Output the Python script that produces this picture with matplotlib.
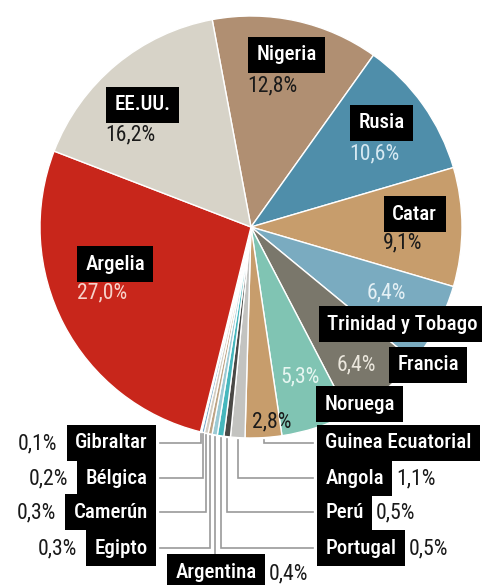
import numpy as np
import matplotlib
matplotlib.use("Agg")
import matplotlib.pyplot as plt
from matplotlib import font_manager as fm

W, H = 482, 585

countries = ["Nigeria", "Rusia", "Catar", "Trinidad y Tobago", "Francia", "Noruega",
             "Guinea Ecuatorial", "Angola", "Perú", "Portugal", "Argentina", "Egipto",
             "Camerún", "Bélgica", "Gibraltar", "Argelia", "EE.UU."]
shares = [12.8, 10.6, 9.1, 6.4, 6.4, 5.3, 2.8, 1.1, 0.5, 0.5, 0.4, 0.3, 0.3, 0.2, 0.1, 27.0, 16.2]
pct_labels = ["12,8%", "10,6%", "9,1%", "6,4%", "6,4%", "5,3%", "2,8%", "1,1%", "0,5%", "0,5%",
              "0,4%", "0,3%", "0,3%", "0,2%", "0,1%", "27,0%", "16,2%"]
colors = ["#b08f72", "#4f8eaa", "#c79d6c", "#7aabc0", "#7a776b", "#80c4b3",
          "#c79d6c", "#c3c3c0", "#4a4946", "#46b7bd", "#9ccad4", "#bda486",
          "#d2cdc2", "#7ba7c7", "#1f3a5a", "#c8261b", "#d7d3c8"]

names = {f.name for f in fm.fontManager.ttflist}
fam = ["DejaVu Sans"]
for cand in ["Roboto Condensed", "Liberation Sans Narrow", "DejaVu Sans Condensed", "Roboto"]:
    if cand in names:
        fam = [cand, "DejaVu Sans"]
        break
NAME_W = "medium"

fig = plt.figure(figsize=(W / 100, H / 100), dpi=100)
ax = fig.add_axes([0, 0, 1, 1])

cx, cy, R = 251, 227, 211
start = 100.6
wedges, _ = ax.pie(shares, colors=colors, startangle=start, counterclock=False,
                   center=(cx, H - cy), radius=R,
                   wedgeprops=dict(edgecolor="white", linewidth=1.0))
ax.set_xlim(0, W)
ax.set_ylim(0, H)
ax.set_aspect("equal")
ax.axis("off")

fig.canvas.draw()
rend = fig.canvas.get_renderer()

def calib(txt, target_px, weight, fs0=12):
    t = ax.text(0, 0, txt, fontsize=fs0, family=fam, fontweight=weight)
    w = t.get_window_extent(rend).width
    t.remove()
    return fs0 * target_px / w

NAME_FS = calib("Guinea Ecuatorial", 146, NAME_W)
PCT_FS = calib("12,8%", 50, "normal")
BOXPAD = 0.40
pad_px = BOXPAD * NAME_FS * 100 / 72

def Y(p):
    return H - p

def name_box(txt, x, y, ha="left"):
    xx = x + pad_px if ha == "left" else (x - pad_px if ha == "right" else x)
    return ax.text(xx, Y(y), txt, ha=ha, va="center", color="white", fontsize=NAME_FS,
                   family=fam, fontweight=NAME_W,
                   bbox=dict(boxstyle="square,pad=%.2f" % BOXPAD, fc="black", ec="none"))

def pct(txt, x, y, color="#1a1a1a", ha="left"):
    return ax.text(x, Y(y), txt, ha=ha, va="center", color=color, fontsize=PCT_FS, family=fam)

idx = {c: i for i, c in enumerate(countries)}

name_box("Nigeria", 248, 55); pct(pct_labels[idx["Nigeria"]], 247, 86)
name_box("EE.UU.", 106, 105); pct(pct_labels[idx["EE.UU."]], 105, 135)
name_box("Rusia", 350, 123); pct(pct_labels[idx["Rusia"]], 349, 154, color="#d6e9f2")
name_box("Catar", 384, 214); pct(pct_labels[idx["Catar"]], 383, 243)
name_box("Argelia", 77, 264); pct(pct_labels[idx["Argelia"]], 77, 293, color="#f7d2ca")
pct(pct_labels[idx["Trinidad y Tobago"]], 367, 293, color="#e4f0f5")
name_box("Trinidad y Tobago", 319, 324)
name_box("Francia", 389, 365); pct(pct_labels[idx["Francia"]], 337, 365, color="#ebe7dd")
pct(pct_labels[idx["Noruega"]], 280, 377, color="#e6f6f1")
name_box("Noruega", 316, 404)
pct(pct_labels[idx["Guinea Ecuatorial"]], 252, 422)
name_box("Guinea Ecuatorial", 317, 443)

LINE_C = "#9a9a9a"

def wedge_mid_x(i):
    w = wedges[i]
    a = np.deg2rad((w.theta1 + w.theta2) / 2)
    return cx + R * np.cos(a)

def edge_y(x):
    return cy + np.sqrt(max(R ** 2 - (x - cx) ** 2, 0)) + 2

def box_extent(t):
    fig.canvas.draw()
    bb = t.get_bbox_patch().get_window_extent(rend)
    return bb.x0, bb.x1

for c, y in [("Angola", 478), ("Perú", 512), ("Portugal", 548)]:
    t = name_box(c, 317, y)
    x0, x1 = box_extent(t)
    pct(pct_labels[idx[c]], x1 + 4, y + 1)

for c, y in [("Gibraltar", 443), ("Bélgica", 478), ("Camerún", 512), ("Egipto", 548)]:
    t = name_box(c, 156, y, ha="right")
    x0, x1 = box_extent(t)
    pct(pct_labels[idx[c]], x0 - 9, y + 1, ha="right")

ta = name_box("Argentina", 216, 572, ha="center")
x0, x1 = box_extent(ta)
pct(pct_labels[idx["Argentina"]], x1 + 4, 574)

for c, y in [("Gibraltar", 443), ("Bélgica", 478), ("Camerún", 512), ("Egipto", 548)]:
    x = wedge_mid_x(idx[c])
    ax.plot([x, x, 160], [Y(edge_y(x)), Y(y), Y(y)], color=LINE_C, lw=1.2, solid_joinstyle="miter")
for c, y in [("Guinea Ecuatorial", 443), ("Angola", 478), ("Perú", 512), ("Portugal", 548)]:
    x = wedge_mid_x(idx[c])
    ax.plot([x, x, 313], [Y(edge_y(x)), Y(y), Y(y)], color=LINE_C, lw=1.2, solid_joinstyle="miter")
x = wedge_mid_x(idx["Argentina"])
ax.plot([x, x], [Y(edge_y(x)), Y(561)], color=LINE_C, lw=1.2)

fig.savefig("out.png", dpi=100)
